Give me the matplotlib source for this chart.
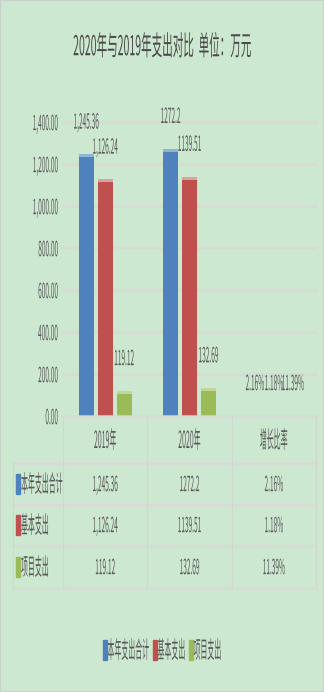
import numpy as np
import matplotlib
matplotlib.use('Agg')
import matplotlib.pyplot as plt
from matplotlib.patches import Rectangle
from matplotlib.lines import Line2D
from matplotlib.patheffects import AbstractPathEffect
from matplotlib.transforms import Affine2D, blended_transform_factory
from matplotlib.ticker import FuncFormatter

plt.rcParams['font.family'] = ['Noto Sans CJK SC', 'DejaVu Sans']

title = '2020年与2019年支出对比  单位：万元'
categories = ['2019年', '2020年', '增长比率']
series = ['本年支出合计', '基本支出', '项目支出']
values_2019 = [1245.36, 1126.24, 119.12]
values_2020 = [1272.2, 1139.51, 132.69]
growth_pct = [2.16, 1.18, 11.39]
y_ticks = [0, 200, 400, 600, 800, 1000, 1200, 1400]

colors = ['#4f81bd', '#c0504d', '#9bbb59']
cap_colors = ['#8fb4d6', '#d9a3a1', '#c2d793']
bg = '#cde8d0'
grid = '#d6dbd3'
txt = '#595959'

# number formats per column, as shown in the sheet
col_fmt = [lambda v: f'{v:,.2f}', lambda v: f'{v:g}', lambda v: f'{v:.2f}%']


class TallText(AbstractPathEffect):
    """Stretch glyphs vertically about their mid-height (narrow, tall lettering)."""

    def __init__(self, sy=3.2):
        super().__init__()
        self.sy = sy

    def draw_path(self, renderer, gc, tpath, affine, rgbFace=None):
        m = affine.get_matrix()
        fs = m[0, 0] * 100  # text2path FONT_SCALE
        mid = m[1, 2] + 0.36 * fs
        stretch = Affine2D().translate(0, -mid).scale(1, self.sy).translate(0, mid)
        renderer.draw_path(gc, tpath, affine + stretch, rgbFace)


W, H = 324, 692


def fx(x):
    return x / W


def fy(y):
    return 1 - y / H


fig = plt.figure(figsize=(W / 100, H / 100), dpi=100, facecolor=bg)
fig.add_artist(Rectangle((0, 0), 1, 1, transform=fig.transFigure,
                         fill=False, edgecolor='#c9d2c8', lw=1.5))

ax = fig.add_axes([fx(63), fy(416), fx(316) - fx(63), fy(122) - fy(416)])
ax.set_facecolor('none')
for sp in ax.spines.values():
    sp.set_visible(False)

ax.set_xlim(-0.5, 2.5)
ax.set_ylim(0, 1400)
ax.set_xticks([])
ax.set_yticks(y_ticks)
ax.yaxis.set_major_formatter(FuncFormatter(lambda v, p: f'{v:,.2f}'))
ax.tick_params(axis='y', length=0, pad=3.6, labelsize=4.7, labelcolor=txt)
for lbl in ax.get_yticklabels():
    lbl.set_path_effects([TallText(3.2)])
ax.yaxis.grid(True, color=grid, lw=2.2)
ax.set_axisbelow(True)
for gl in ax.get_ygridlines():
    gl.set_clip_on(False)

ax_h_px = ax.get_position().height * H
cap = 3 * 1400 / ax_h_px

x = np.arange(len(categories))
width, step = 0.18, 0.225
for i, name in enumerate(series):
    heights = np.array([values_2019[i], values_2020[i], growth_pct[i] / 100])
    labels = [col_fmt[0](values_2019[i]), col_fmt[1](values_2020[i]),
              col_fmt[2](growth_pct[i])]
    xi = x + (i - 1) * step
    ax.bar(xi, heights, width=width, color=colors[i], zorder=2)
    caps = np.minimum(cap, heights)
    ax.bar(xi, caps, bottom=heights - caps, width=width, color=cap_colors[i], zorder=2.1)
    for xx, h, lab in zip(xi, heights, labels):
        t = ax.annotate(lab, (xx, h), xytext=(0, 33), textcoords='offset pixels',
                        ha='center', va='center', fontsize=4.7, color=txt,
                        annotation_clip=False)
        t.set_path_effects([TallText(3.2)])

# baseline drawn over the bar feet
ax.axhline(0, color=grid, lw=2.2, alpha=0.7, zorder=3, clip_on=False)

fig.text(fx(162), fy(46), title, ha='center', va='center', fontsize=7.6,
         color='#4a4a4a', path_effects=[TallText(2.6)])

# data table under the plot
tr_cols = blended_transform_factory(ax.transAxes, fig.transFigure)
tr_cats = blended_transform_factory(ax.transData, fig.transFigure)
row_y = [484, 525, 567]
for y in [463, 505, 546, 588]:
    fig.add_artist(Line2D([fx(13), fx(316)], [fy(y), fy(y)], transform=fig.transFigure,
                          color=grid, lw=2.2))
for k in range(4):
    fig.add_artist(Line2D([k / 3, k / 3], [fy(416), fy(588)], transform=tr_cols,
                          color='#cfd8ce', lw=0.8))
fig.add_artist(Line2D([fx(13), fx(13)], [fy(463), fy(588)], transform=fig.transFigure,
                      color='#cfd8ce', lw=0.8))

for j, cat in enumerate(categories):
    fig.text(j, fy(440), cat, transform=tr_cats, ha='center', va='center',
             fontsize=5.0, color=txt, path_effects=[TallText(3.4)])

table_vals = [values_2019, values_2020, growth_pct]
for i, name in enumerate(series):
    y = row_y[i]
    fig.add_artist(Rectangle((fx(16), fy(y + 10)), fx(4), 20 / H,
                             transform=fig.transFigure, color=colors[i]))
    fig.text(fx(21), fy(y), name, ha='left', va='center', fontsize=5.0,
             color=txt, path_effects=[TallText(3.4)])
    for j in range(len(categories)):
        fig.text(j, fy(y), col_fmt[j](table_vals[j][i]), transform=tr_cats,
                 ha='center', va='center', fontsize=4.7, color=txt,
                 path_effects=[TallText(3.2)])

# legend row at the bottom, laid out left to right then centred
renderer = fig.canvas.get_renderer()
items = []
cursor = 0.0
for i, name in enumerate(series):
    key = Rectangle((0, 0), fx(4), 20 / H, transform=fig.transFigure, color=colors[i])
    t = fig.text(0, fy(650), name, ha='left', va='center', fontsize=5.0,
                 color=txt, path_effects=[TallText(3.4)])
    tw = t.get_window_extent(renderer).width
    items.append((key, t, cursor))
    cursor += 5 + tw + 3
start = 162 - (cursor - 3) / 2
for key, t, off in items:
    key.set_xy((fx(start + off), fy(660)))
    fig.add_artist(key)
    t.set_x(fx(start + off + 5))

fig.savefig('out.png', dpi=100, facecolor=bg)
